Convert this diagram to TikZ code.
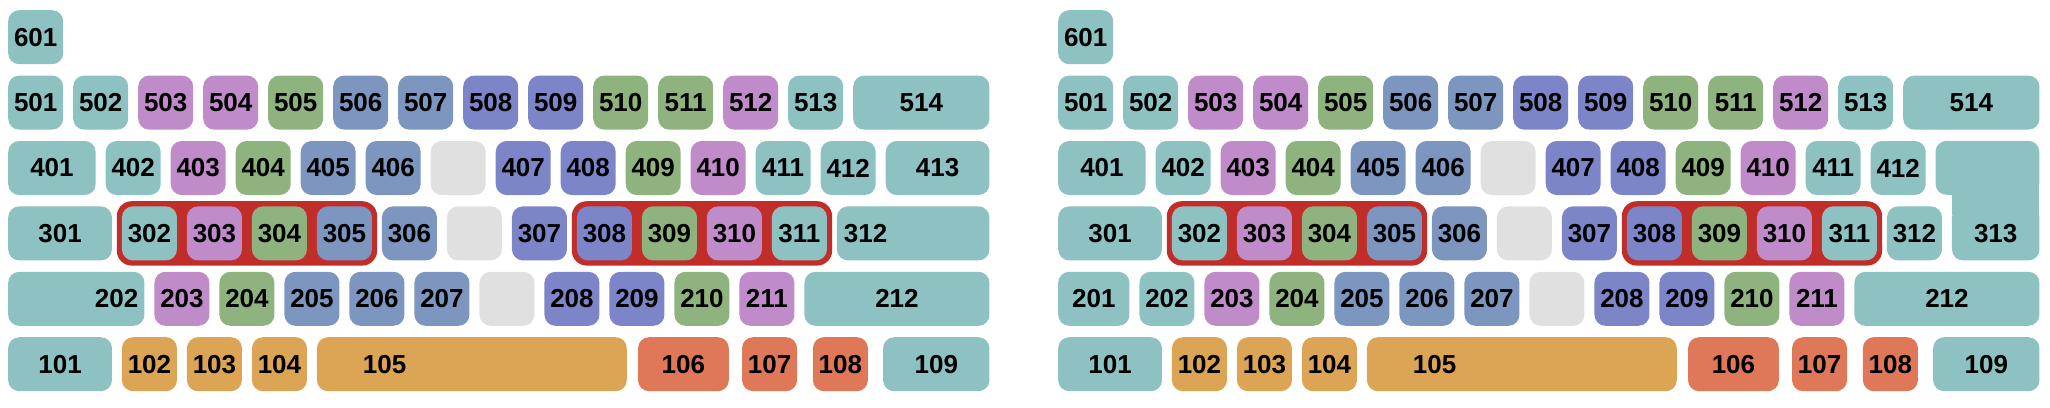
\documentclass[tikz,border=0pt]{standalone}
\usepackage{fontspec}
\setmainfont{Liberation Sans}
\usetikzlibrary{fit,backgrounds}
\definecolor{kteal}{HTML}{8EC2C2}
\definecolor{kpink}{HTML}{C08BC9}
\definecolor{kgreen}{HTML}{8FB37E}
\definecolor{ksteel}{HTML}{7D96BF}
\definecolor{kindigo}{HTML}{7D85C9}
\definecolor{kgray}{HTML}{E0E0E0}
\definecolor{korange}{HTML}{DCA455}
\definecolor{kcoral}{HTML}{DE7858}
\definecolor{kred}{HTML}{C12E29}
\tikzset{
  key/.style={anchor=north west, fill=#1, rounded corners=11pt, minimum width=55pt,
    minimum height=54pt, inner sep=0pt, font=\bfseries\fontsize{26}{30}\selectfont},
  span/.style={minimum width=#1*65pt-10pt},
  frame/.style={fill=kred, rounded corners=15pt, inner sep=5pt}
}

\begin{document}
\begin{tikzpicture}[x=1pt, y=-1pt]
		%%%%% START %%%%%
		\useasboundingbox (0,0) rectangle (2050,407);
		
		%% left board
		\begin{scope}[xshift=8pt, x=65pt]
		\node[key=kteal] (a601) at (0,10) {601};
		
		\node[key=kteal] (a501) at (0,75.4) {501};
		\node[key=kteal] (a502) at (1,75.4) {502};
		\node[key=kpink] (a503) at (2,75.4) {503};
		\node[key=kpink] (a504) at (3,75.4) {504};
		\node[key=kgreen] (a505) at (4,75.4) {505};
		\node[key=ksteel] (a506) at (5,75.4) {506};
		\node[key=ksteel] (a507) at (6,75.4) {507};
		\node[key=kindigo] (a508) at (7,75.4) {508};
		\node[key=kindigo] (a509) at (8,75.4) {509};
		\node[key=kgreen] (a510) at (9,75.4) {510};
		\node[key=kgreen] (a511) at (10,75.4) {511};
		\node[key=kpink] (a512) at (11,75.4) {512};
		\node[key=kteal] (a513) at (12,75.4) {513};
		\node[key=kteal, span=2.25] (a514) at (13,75.4) {514};
		
		\node[key=kteal, span=1.5] (a401) at (0,140.8) {401};
		\node[key=kteal] (a402) at (1.5,140.8) {402};
		\node[key=kpink] (a403) at (2.5,140.8) {403};
		\node[key=kgreen] (a404) at (3.5,140.8) {404};
		\node[key=ksteel] (a405) at (4.5,140.8) {405};
		\node[key=ksteel] (a406) at (5.5,140.8) {406};
		\node[key=kgray] (a4gap) at (6.5,140.8) {};
		\node[key=kindigo] (a407) at (7.5,140.8) {407};
		\node[key=kindigo] (a408) at (8.5,140.8) {408};
		\node[key=kgreen] (a409) at (9.5,140.8) {409};
		\node[key=kpink] (a410) at (10.5,140.8) {410};
		\node[key=kteal] (a411) at (11.5,140.8) {411};
		\node[key=kteal] (a412) at (12.5,140.8) {412};
		\node[key=kteal, span=1.75] (a413) at (13.5,140.8) {413};
		
		\node[key=kteal, span=1.75] (a301) at (0,206.2) {301};
		\node[key=kteal] (a302) at (1.75,206.2) {302};
		\node[key=kpink] (a303) at (2.75,206.2) {303};
		\node[key=kgreen] (a304) at (3.75,206.2) {304};
		\node[key=ksteel] (a305) at (4.75,206.2) {305};
		\node[key=ksteel] (a306) at (5.75,206.2) {306};
		\node[key=kgray] (a3gap) at (6.75,206.2) {};
		\node[key=kindigo] (a307) at (7.75,206.2) {307};
		\node[key=kindigo] (a308) at (8.75,206.2) {308};
		\node[key=kgreen] (a309) at (9.75,206.2) {309};
		\node[key=kpink] (a310) at (10.75,206.2) {310};
		\node[key=kteal] (a311) at (11.75,206.2) {311};
		\node[key=kteal, span=2.5, inner xsep=7pt, text width=138.5pt, align=left] (a312) at (12.75,206.2) {312};
		
		\node[key=kteal, span=2.25, inner xsep=6pt, text width=124pt, align=right] (a202) at (0,271.6) {202};
		\node[key=kpink] (a203) at (2.25,271.6) {203};
		\node[key=kgreen] (a204) at (3.25,271.6) {204};
		\node[key=ksteel] (a205) at (4.25,271.6) {205};
		\node[key=ksteel] (a206) at (5.25,271.6) {206};
		\node[key=ksteel] (a207) at (6.25,271.6) {207};
		\node[key=kgray] (a2gap) at (7.25,271.6) {};
		\node[key=kindigo] (a208) at (8.25,271.6) {208};
		\node[key=kindigo] (a209) at (9.25,271.6) {209};
		\node[key=kgreen] (a210) at (10.25,271.6) {210};
		\node[key=kpink] (a211) at (11.25,271.6) {211};
		\node[key=kteal, span=3] (a212) at (12.25,271.6) {212};
		
		\node[key=kteal, span=1.75] (a101) at (0,337) {101};
		\node[key=korange] (a102) at (1.75,337) {102};
		\node[key=korange] (a103) at (2.75,337) {103};
		\node[key=korange] (a104) at (3.75,337) {104};
		\node[key=korange, span=4.92, inner xsep=46pt, text width=217.8pt, align=left] (a105) at (4.75,337) {105};
		\node[key=kcoral, span=1.55] (a106) at (9.69,337) {106};
		\node[key=kcoral] (a107) at (11.29,337) {107};
		\node[key=kcoral] (a108) at (12.38,337) {108};
		\node[key=kteal, span=1.79] (a109) at (13.46,337) {109};
		
		\begin{scope}[on background layer]
		\node[frame, fit=(a302)(a305)] (aframe1) {};
		\node[frame, fit=(a308)(a311)] (aframe2) {};
		\end{scope}
		\end{scope}
		
		%% right board
		\begin{scope}[xshift=1058pt, x=65pt]
		\node[key=kteal] (b601) at (0,10) {601};
		
		\node[key=kteal] (b501) at (0,75.4) {501};
		\node[key=kteal] (b502) at (1,75.4) {502};
		\node[key=kpink] (b503) at (2,75.4) {503};
		\node[key=kpink] (b504) at (3,75.4) {504};
		\node[key=kgreen] (b505) at (4,75.4) {505};
		\node[key=ksteel] (b506) at (5,75.4) {506};
		\node[key=ksteel] (b507) at (6,75.4) {507};
		\node[key=kindigo] (b508) at (7,75.4) {508};
		\node[key=kindigo] (b509) at (8,75.4) {509};
		\node[key=kgreen] (b510) at (9,75.4) {510};
		\node[key=kgreen] (b511) at (10,75.4) {511};
		\node[key=kpink] (b512) at (11,75.4) {512};
		\node[key=kteal] (b513) at (12,75.4) {513};
		\node[key=kteal, span=2.25] (b514) at (13,75.4) {514};
		
		\node[key=kteal, span=1.5] (b401) at (0,140.8) {401};
		\node[key=kteal] (b402) at (1.5,140.8) {402};
		\node[key=kpink] (b403) at (2.5,140.8) {403};
		\node[key=kgreen] (b404) at (3.5,140.8) {404};
		\node[key=ksteel] (b405) at (4.5,140.8) {405};
		\node[key=ksteel] (b406) at (5.5,140.8) {406};
		\node[key=kgray] (b4gap) at (6.5,140.8) {};
		\node[key=kindigo] (b407) at (7.5,140.8) {407};
		\node[key=kindigo] (b408) at (8.5,140.8) {408};
		\node[key=kgreen] (b409) at (9.5,140.8) {409};
		\node[key=kpink] (b410) at (10.5,140.8) {410};
		\node[key=kteal] (b411) at (11.5,140.8) {411};
		\node[key=kteal] (b412) at (12.5,140.8) {412};
		% enter key, top half and neck
		\fill[kteal, rounded corners=11pt] (13.5,140.8) rectangle +(103.75pt,-54pt);
		\fill[kteal] (13.75,185) rectangle +(87.5pt,-30pt);
		
		\node[key=kteal, span=1.75] (b301) at (0,206.2) {301};
		\node[key=kteal] (b302) at (1.75,206.2) {302};
		\node[key=kpink] (b303) at (2.75,206.2) {303};
		\node[key=kgreen] (b304) at (3.75,206.2) {304};
		\node[key=ksteel] (b305) at (4.75,206.2) {305};
		\node[key=ksteel] (b306) at (5.75,206.2) {306};
		\node[key=kgray] (b3gap) at (6.75,206.2) {};
		\node[key=kindigo] (b307) at (7.75,206.2) {307};
		\node[key=kindigo] (b308) at (8.75,206.2) {308};
		\node[key=kgreen] (b309) at (9.75,206.2) {309};
		\node[key=kpink] (b310) at (10.75,206.2) {310};
		\node[key=kteal] (b311) at (11.75,206.2) {311};
		\node[key=kteal] (b312) at (12.75,206.2) {312};
		\node[key=kteal, span=1.5] (b313) at (13.75,206.2) {313};
		
		\node[key=kteal, span=1.25] (b201) at (0,271.6) {201};
		\node[key=kteal] (b202) at (1.25,271.6) {202};
		\node[key=kpink] (b203) at (2.25,271.6) {203};
		\node[key=kgreen] (b204) at (3.25,271.6) {204};
		\node[key=ksteel] (b205) at (4.25,271.6) {205};
		\node[key=ksteel] (b206) at (5.25,271.6) {206};
		\node[key=ksteel] (b207) at (6.25,271.6) {207};
		\node[key=kgray] (b2gap) at (7.25,271.6) {};
		\node[key=kindigo] (b208) at (8.25,271.6) {208};
		\node[key=kindigo] (b209) at (9.25,271.6) {209};
		\node[key=kgreen] (b210) at (10.25,271.6) {210};
		\node[key=kpink] (b211) at (11.25,271.6) {211};
		\node[key=kteal, span=3] (b212) at (12.25,271.6) {212};
		
		\node[key=kteal, span=1.75] (b101) at (0,337) {101};
		\node[key=korange] (b102) at (1.75,337) {102};
		\node[key=korange] (b103) at (2.75,337) {103};
		\node[key=korange] (b104) at (3.75,337) {104};
		\node[key=korange, span=4.92, inner xsep=46pt, text width=217.8pt, align=left] (b105) at (4.75,337) {105};
		\node[key=kcoral, span=1.55] (b106) at (9.69,337) {106};
		\node[key=kcoral] (b107) at (11.29,337) {107};
		\node[key=kcoral] (b108) at (12.38,337) {108};
		\node[key=kteal, span=1.79] (b109) at (13.46,337) {109};
		
		\begin{scope}[on background layer]
		\node[frame, fit=(b302)(b305)] (bframe1) {};
		\node[frame, fit=(b308)(b311)] (bframe2) {};
		\end{scope}
		\end{scope}
		
		%%%%% END %%%%%
\end{tikzpicture}
\end{document}
